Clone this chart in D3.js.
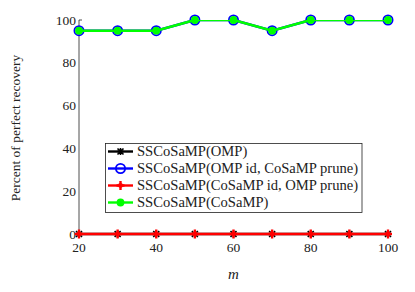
<!DOCTYPE html>
<html>
<head>
<meta charset="utf-8">
<script src="https://cdn.jsdelivr.net/npm/d3@7"></script>
<style>
  body { margin: 0; background: white; }
</style>
</head>
<body>
<script>
// data
var mValues = [20, 30, 40, 50, 60, 70, 80, 90, 100];
var ompRecovery = [0, 0, 0, 0, 0, 0, 0, 0, 0];
var ompIdCosampPrune = [95, 95, 95, 100, 100, 95, 100, 100, 100];
var cosampIdOmpPrune = [0, 0, 0, 0, 0, 0, 0, 0, 0];
var cosampRecovery = [95, 95, 95, 100, 100, 95, 100, 100, 100];
var xTicks = [20, 40, 60, 80, 100];
var yTicks = [0, 20, 40, 60, 80, 100];
var seriesNames = ["SSCoSaMP(OMP)", "SSCoSaMP(OMP id, CoSaMP prune)",
                   "SSCoSaMP(CoSaMP id, OMP prune)", "SSCoSaMP(CoSaMP)"];

var width = 415, height = 292;
var margin = {top: 20, right: 27, bottom: 58, left: 79};
var serif = "'Liberation Serif', 'Times New Roman', 'DejaVu Serif', serif";

var svg = d3.select("body").append("svg")
    .attr("width", width)
    .attr("height", height)
    .attr("font-family", serif);

var x = d3.scaleLinear().domain([20, 100]).range([margin.left, width - margin.right]);
var y = d3.scaleLinear().domain([0, 100]).range([height - margin.bottom, margin.top]);

// lines get cut at the top of the plot area, like the reference
svg.append("clipPath").attr("id", "clip")
  .append("rect")
    .attr("x", 0).attr("y", y(100))
    .attr("width", width).attr("height", height - y(100));

// left axis line
svg.append("line")
    .attr("x1", x(20)).attr("x2", x(20))
    .attr("y1", y(0)).attr("y2", y(100))
    .attr("stroke", "#222").attr("stroke-width", 0.8);
svg.append("line")
    .attr("x1", x(20)).attr("x2", x(20) + 3)
    .attr("y1", y(100)).attr("y2", y(100))
    .attr("stroke", "#222").attr("stroke-width", 0.8);

// tick labels
svg.selectAll(".ytick").data(yTicks).enter().append("text")
    .attr("class", "ytick")
    .attr("x", x(20) - 3)
    .attr("y", function(d) { return y(d) + 4.5; })
    .attr("text-anchor", "end")
    .attr("fill", "#222")
    .style("font-size", "13.5px")
    .text(function(d) { return d; });

svg.selectAll(".xtick").data(xTicks).enter().append("text")
    .attr("class", "xtick")
    .attr("x", function(d) { return x(d); })
    .attr("y", y(0) + 18)
    .attr("text-anchor", "middle")
    .attr("fill", "#222")
    .style("font-size", "13.5px")
    .text(function(d) { return d; });

// axis titles
svg.append("text")
    .attr("x", x(60))
    .attr("y", 279)
    .attr("text-anchor", "middle")
    .attr("fill", "#222")
    .style("font-size", "15px")
    .style("font-style", "italic")
    .text("m");

svg.append("text")
    .attr("transform", "translate(20," + (y(50) + 1) + ") rotate(-90)")
    .attr("text-anchor", "middle")
    .attr("fill", "#222")
    .style("font-size", "13.5px")
    .text("Percent of perfect recovery");

var line = d3.line()
    .x(function(d, i) { return x(mValues[i]); })
    .y(function(d) { return y(d); });

function drawMarker(g, kind, color, cx, cy) {
  if (kind === "star") {
    g.append("path")
      .attr("d", "M" + (cx - 3) + "," + (cy - 3) + "L" + (cx + 3) + "," + (cy + 3) +
                 "M" + (cx - 3) + "," + (cy + 3) + "L" + (cx + 3) + "," + (cy - 3) +
                 "M" + (cx - 3.5) + "," + cy + "L" + (cx + 3.5) + "," + cy +
                 "M" + cx + "," + (cy - 3.5) + "L" + cx + "," + (cy + 3.5))
      .attr("stroke", color).attr("stroke-width", 1.6);
  } else if (kind === "open") {
    g.append("circle").attr("cx", cx).attr("cy", cy).attr("r", 4.6)
      .attr("fill", "none").attr("stroke", color).attr("stroke-width", 1.8);
  } else if (kind === "plus") {
    g.append("path")
      .attr("d", "M" + (cx - 4) + "," + cy + "L" + (cx + 4) + "," + cy +
                 "M" + cx + "," + (cy - 4.5) + "L" + cx + "," + (cy + 4.5))
      .attr("stroke", color).attr("stroke-width", 2.4);
    g.append("circle").attr("cx", cx).attr("cy", cy).attr("r", 2.4).attr("fill", color);
  } else {
    g.append("circle").attr("cx", cx).attr("cy", cy).attr("r", 3.9).attr("fill", color);
  }
}

var series = [
  {name: seriesNames[0], values: ompRecovery, color: "#000000", marker: "star"},
  {name: seriesNames[1], values: ompIdCosampPrune, color: "#0000ff", marker: "open"},
  {name: seriesNames[2], values: cosampIdOmpPrune, color: "#ff0000", marker: "plus"},
  {name: seriesNames[3], values: cosampRecovery, color: "#00ff00", marker: "filled"}
];

series.forEach(function(s) {
  var g = svg.append("g");
  g.append("path")
    .datum(s.values)
    .attr("d", line)
    .attr("clip-path", "url(#clip)")
    .attr("fill", "none")
    .attr("stroke", s.color)
    .attr("stroke-width", 2.6);
  s.values.forEach(function(v, i) {
    drawMarker(g, s.marker, s.color, x(mValues[i]), y(v));
  });
});

// legend
var lg = svg.append("g");
lg.append("rect")
    .attr("x", 105.5).attr("y", 143.5)
    .attr("width", 256.5).attr("height", 69)
    .attr("fill", "white").attr("stroke", "#222").attr("stroke-width", 0.8);

series.forEach(function(s, i) {
  var yy = 151.5 + i * 17;
  lg.append("line")
    .attr("x1", 108).attr("x2", 133)
    .attr("y1", yy).attr("y2", yy)
    .attr("stroke", s.color).attr("stroke-width", 2.4);
  drawMarker(lg, s.marker, s.color, 120.5, yy);
  lg.append("text")
    .attr("x", 137)
    .attr("y", yy + 4.5)
    .attr("fill", "#222")
    .style("font-size", "14.6px")
    .text(s.name);
});
</script>
</body>
</html>
